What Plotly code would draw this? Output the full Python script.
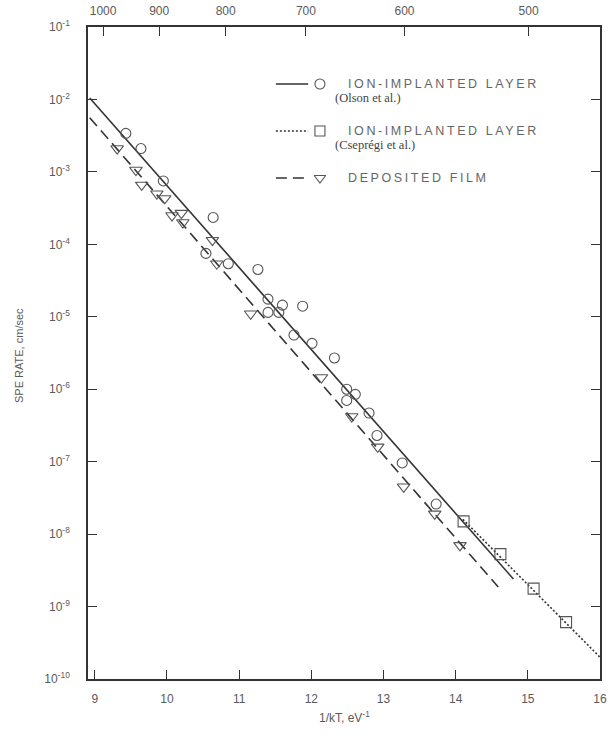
import plotly.graph_objects as go

# Boltzmann constant, eV/K
K_B = 8.617e-5

# Ion-implanted layer (Olson et al.): 1/kT (eV^-1) and SPE rate (cm/sec)
olson_x = [9.43, 9.64, 9.95, 10.64, 10.54, 10.85, 11.26, 11.40, 11.60, 11.88,
           11.40, 11.55, 11.76, 12.01, 12.32, 12.49, 12.61, 12.49, 12.80, 12.91,
           13.26, 13.73]
olson_y = [3.4e-3, 2.1e-3, 7.5e-4, 2.35e-4, 7.5e-5, 5.4e-5, 4.5e-5, 1.75e-5, 1.45e-5, 1.4e-5,
           1.15e-5, 1.15e-5, 5.6e-6, 4.3e-6, 2.7e-6, 1.0e-6, 8.5e-7, 7.0e-7, 4.7e-7, 2.3e-7,
           9.6e-8, 2.6e-8]

# Ion-implanted layer (Csepregi et al.)
csepregi_x = [14.11, 14.62, 15.08, 15.53]
csepregi_y = [1.5e-8, 5.3e-9, 1.77e-9, 6.1e-10]

# Deposited film
film_x = [9.31, 9.57, 9.65, 9.86, 9.97, 10.07, 10.20, 10.22, 10.63, 10.69,
          11.16, 12.14, 12.56, 12.92, 13.28, 13.71, 14.06]
film_y = [2.1e-3, 1.06e-3, 6.6e-4, 5.0e-4, 4.3e-4, 2.5e-4, 2.7e-4, 2.0e-4, 1.14e-4, 5.4e-5,
          1.1e-5, 1.45e-6, 4.2e-7, 1.6e-7, 4.5e-8, 1.9e-8, 7.0e-9]

# Fitted Arrhenius lines (end points)
olson_fit_x = [8.93, 14.80]
olson_fit_y = [1.05e-2, 2.4e-9]
csepregi_fit_x = [14.10, 16.0]
csepregi_fit_y = [1.6e-8, 2.0e-10]
film_fit_x = [8.93, 14.59]
film_fit_y = [5.6e-3, 1.86e-9]

# Axis ticks
x_ticks = [9, 10, 11, 12, 13, 14, 15, 16]
y_exponents = [-1, -2, -3, -4, -5, -6, -7, -8, -9, -10]
temps_c = [1000, 900, 800, 700, 600, 500]

# Legend entries
legend_titles = ["ION-IMPLANTED LAYER", "ION-IMPLANTED LAYER", "DEPOSITED FILM"]
legend_sources = ["(Olson et al.)", "(Cseprégi et al.)", ""]

INK = "#333333"
MARK = "#555555"
TEXT = "#5a5a5a"
SANS = "Liberation Sans, Arial, sans-serif"
SERIF = "Liberation Serif, Times New Roman, serif"

fig = go.Figure()

# fitted lines
fig.add_trace(go.Scatter(x=olson_fit_x, y=olson_fit_y, mode="lines",
                         line=dict(color=INK, width=1.6), showlegend=False))
fig.add_trace(go.Scatter(x=csepregi_fit_x, y=csepregi_fit_y, mode="lines",
                         line=dict(color=INK, width=1.6, dash="2px,2px"), showlegend=False))
fig.add_trace(go.Scatter(x=film_fit_x, y=film_fit_y, mode="lines",
                         line=dict(color=INK, width=1.6, dash="11px,6px"), showlegend=False))

# measured points
fig.add_trace(go.Scatter(x=olson_x, y=olson_y, mode="markers",
                         marker=dict(symbol="circle-open", size=10, color=MARK,
                                     line=dict(width=1.1, color=MARK)),
                         showlegend=False))
fig.add_trace(go.Scatter(x=csepregi_x, y=csepregi_y, mode="markers",
                         marker=dict(symbol="square-open", size=11, color=MARK,
                                     line=dict(width=1.1, color=MARK)),
                         showlegend=False))
fig.add_trace(go.Scatter(x=film_x, y=film_y, mode="markers",
                         marker=dict(symbol="triangle-down-open", size=11, color=MARK,
                                     line=dict(width=1.1, color=MARK)),
                         showlegend=False))

# top temperature axis: 1/kT positions of the Celsius values
temp_pos = [1.0 / (K_B * (t + 273.15)) for t in temps_c]
fig.add_trace(go.Scatter(x=temp_pos, y=[None] * len(temp_pos), xaxis="x2", yaxis="y",
                         mode="markers", showlegend=False, hoverinfo="skip"))

# legend block drawn on an overlay unit axis
row_y = [0.9126, 0.8405, 0.7684]
dashes = ["solid", "2px,2px", "11px,6px"]
symbols = ["circle-open", "square-open", "triangle-down-open"]
for ry, d, s in zip(row_y, dashes, symbols):
    fig.add_trace(go.Scatter(x=[0.367, 0.430], y=[ry, ry], xaxis="x3", yaxis="y3",
                             mode="lines", line=dict(color=INK, width=1.6, dash=d),
                             showlegend=False, hoverinfo="skip"))
    fig.add_trace(go.Scatter(x=[0.453], y=[ry], xaxis="x3", yaxis="y3", mode="markers",
                             marker=dict(symbol=s, size=10, color=MARK,
                                         line=dict(width=1.1, color=MARK)),
                             showlegend=False, hoverinfo="skip"))

annotations = []
for ry, title, src in zip(row_y, legend_titles, legend_sources):
    annotations.append(dict(x=0.503, y=ry, xref="paper", yref="paper",
                            text=f'<span style="letter-spacing:2.6px">{title}</span>',
                            showarrow=False, xanchor="left", yanchor="middle",
                            font=dict(family=SANS, size=12.5, color="#666666")))
    if src:
        annotations.append(dict(x=0.478, y=ry - 0.022, xref="paper", yref="paper", text=src,
                                showarrow=False, xanchor="left", yanchor="middle",
                                font=dict(family=SERIF, size=12.5, color="#444444")))

# axis titles
annotations.append(dict(x=-0.136, y=0.496, xref="paper", yref="paper",
                        text="SPE RATE, cm/sec", textangle=-90, showarrow=False,
                        xanchor="center", yanchor="middle",
                        font=dict(family=SANS, size=11, color=TEXT)))
annotations.append(dict(x=0.5, y=-0.058, xref="paper", yref="paper",
                        text="1/kT, eV<sup>-1</sup>", showarrow=False,
                        xanchor="center", yanchor="middle",
                        font=dict(family=SANS, size=12, color=TEXT)))

tick_font = dict(family=SANS, size=12, color=TEXT)

fig.update_layout(
    width=610, height=740,
    margin=dict(l=88, r=10, t=27, b=61),
    paper_bgcolor="white", plot_bgcolor="white",
    showlegend=False,
    annotations=annotations,
    xaxis=dict(range=[8.906, 16.0], tickvals=x_ticks, ticktext=[str(v) for v in x_ticks],
               ticks="inside", ticklen=9, tickwidth=1.2, tickcolor=INK,
               showline=True, linecolor=INK, linewidth=1.6, mirror=True,
               showgrid=False, zeroline=False, tickfont=tick_font,
               ticklabelstandoff=8, automargin=False),
    xaxis2=dict(overlaying="x", side="top", matches="x", tickvals=temp_pos,
                ticktext=[str(t) for t in temps_c],
                ticks="inside", ticklen=9, tickwidth=1.2, tickcolor=INK,
                showline=False, showgrid=False, zeroline=False, tickfont=tick_font,
                ticklabelstandoff=9, automargin=False),
    yaxis=dict(type="log", range=[-10, -1],
               tickvals=[10.0 ** e for e in y_exponents],
               ticktext=[f"10<sup>{e}</sup>" for e in y_exponents],
               ticks="inside", ticklen=9, tickwidth=1.2, tickcolor=INK,
               showline=True, linecolor=INK, linewidth=1.6, mirror="ticks",
               showgrid=False, zeroline=False, tickfont=tick_font,
               ticklabelstandoff=14, automargin=False),
    xaxis3=dict(range=[0, 1], domain=[0, 1], anchor="y3", overlaying="x", visible=False),
    yaxis3=dict(range=[0, 1], domain=[0, 1], anchor="x3", overlaying="y", visible=False),
)

fig.write_html("out.html")
